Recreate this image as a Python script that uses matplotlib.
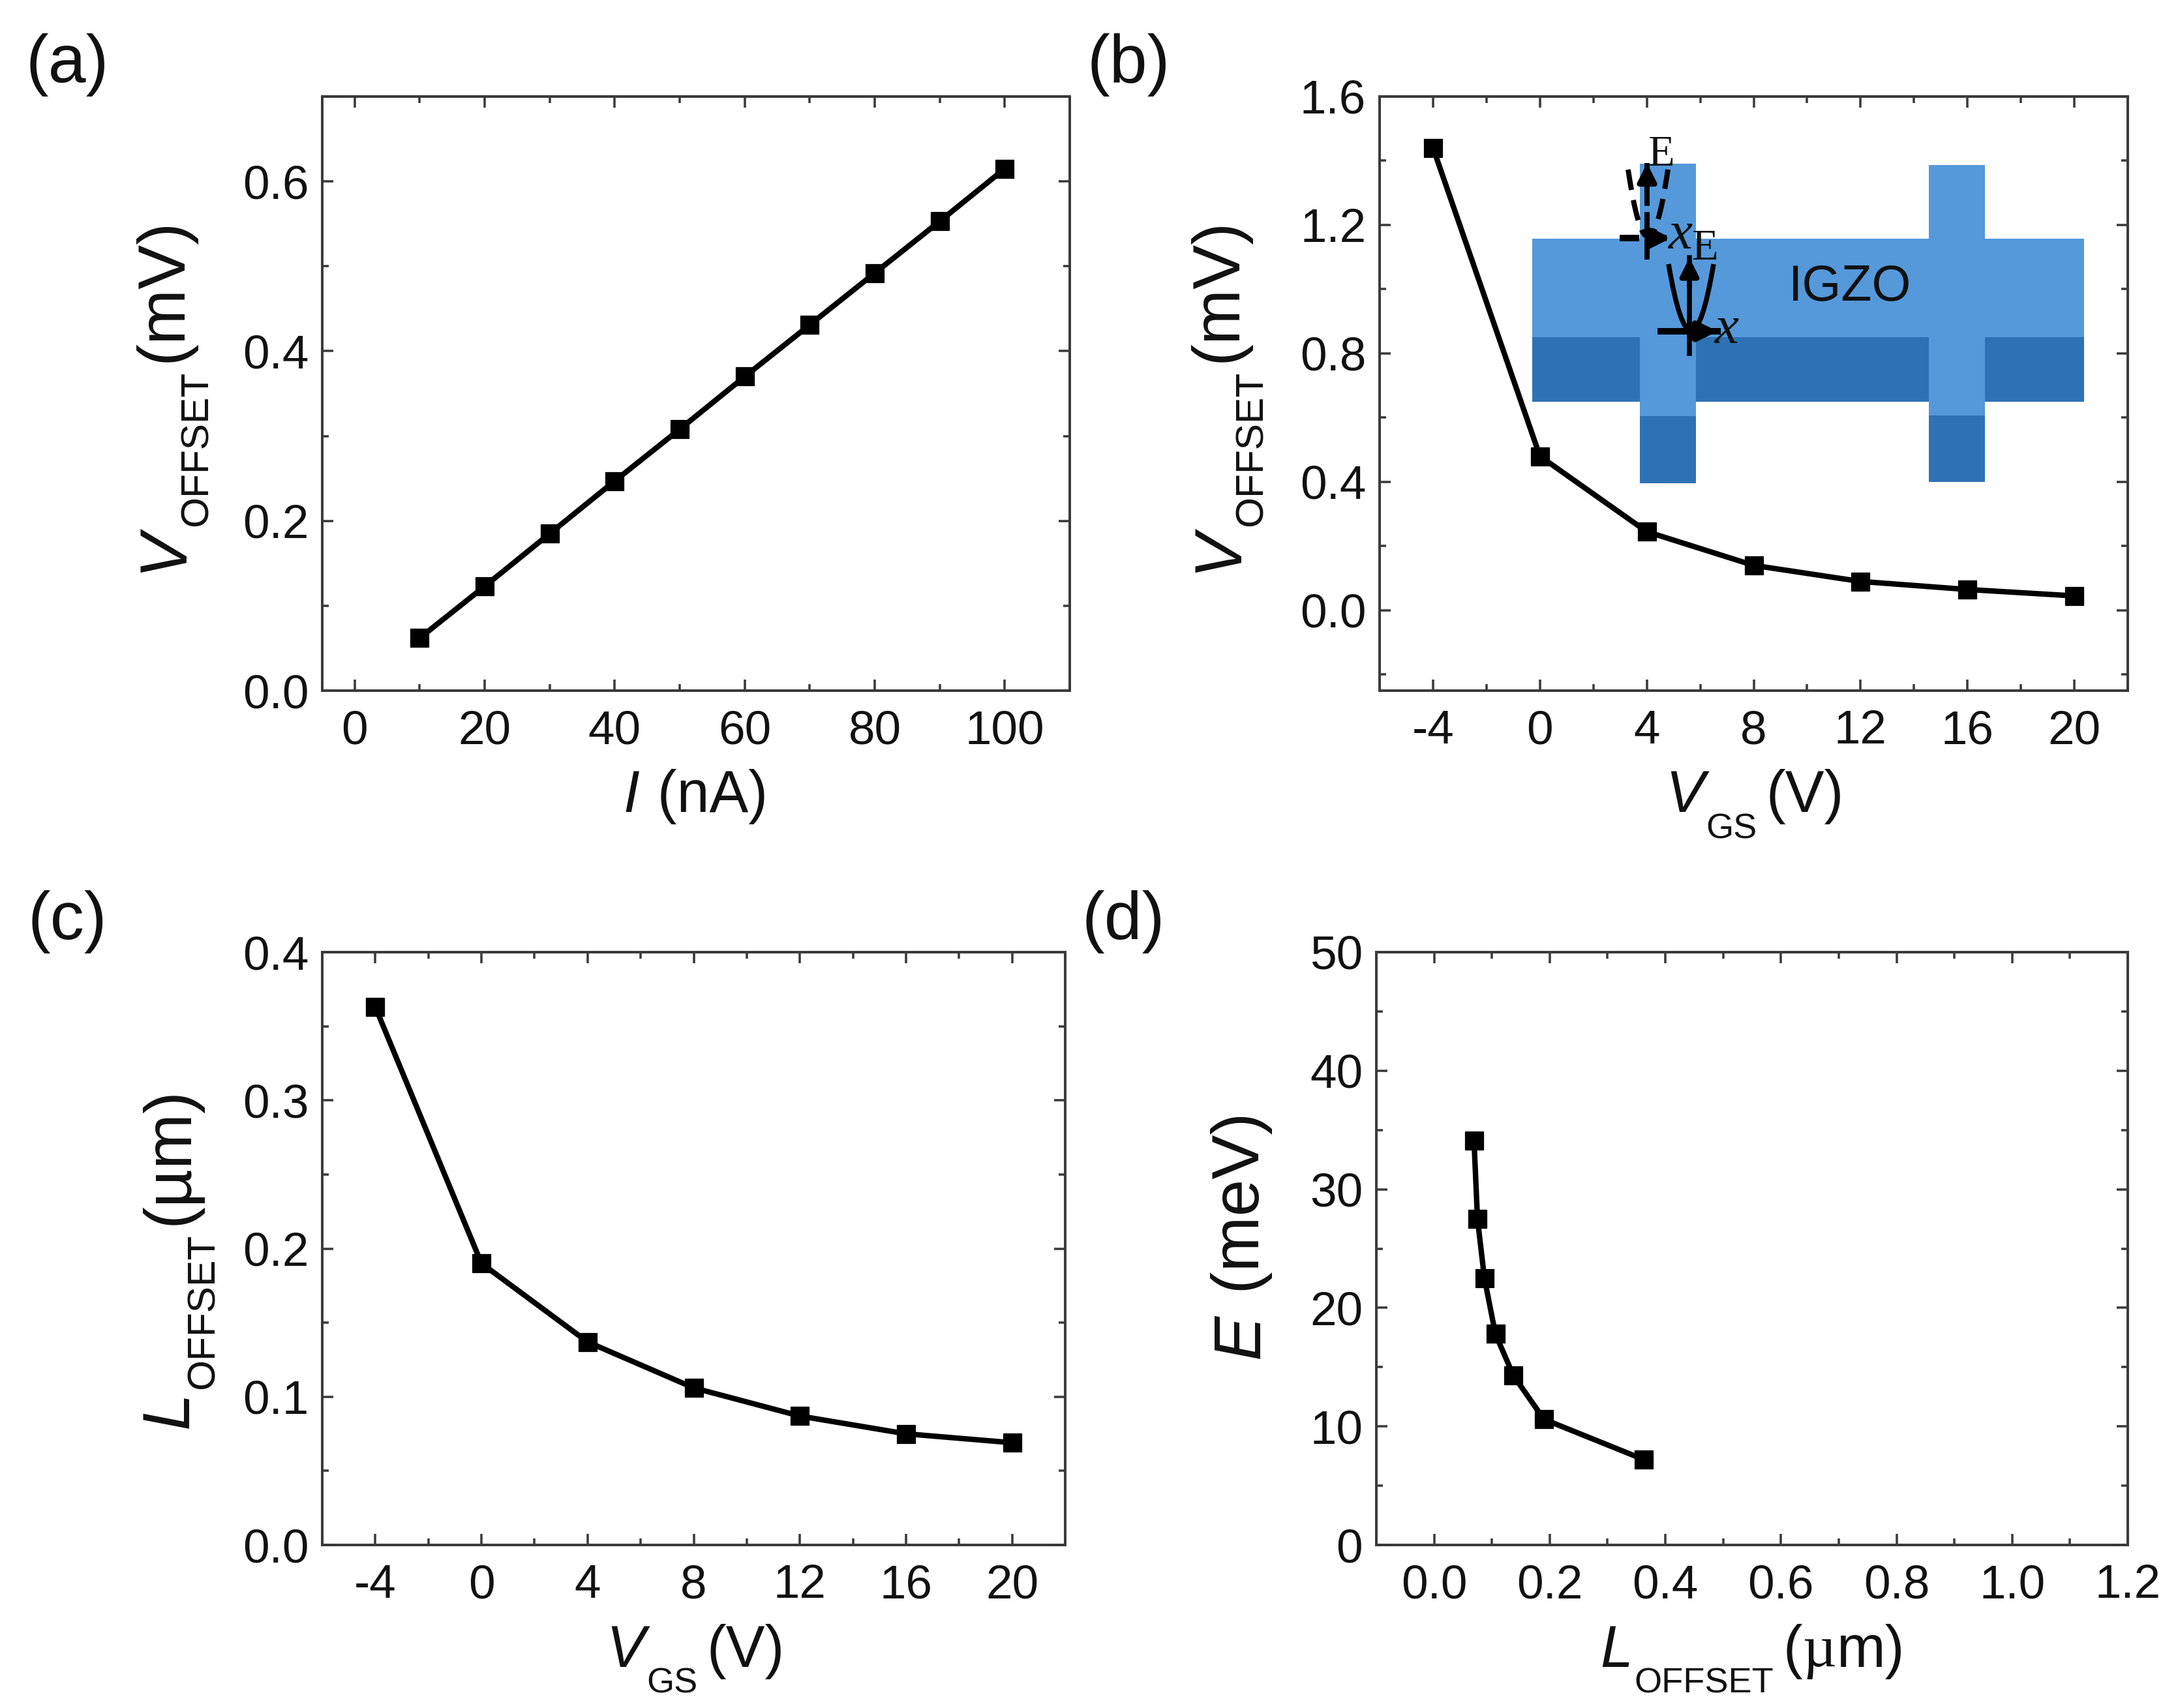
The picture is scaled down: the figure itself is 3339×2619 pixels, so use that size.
import matplotlib
matplotlib.use("Agg")
import matplotlib.pyplot as plt
from matplotlib.patches import Rectangle, PathPatch
from matplotlib.path import Path
from matplotlib.ticker import MultipleLocator, AutoMinorLocator, FormatStrFormatter

FONT = "Liberation Sans"
SERIF = "Liberation Serif"
plt.rcParams["font.family"] = [FONT, "DejaVu Sans"]
plt.rcParams["axes.unicode_minus"] = False

# data
current_nA = [10, 20, 30, 40, 50, 60, 70, 80, 90, 100]
v_offset_a = [0.062, 0.123, 0.185, 0.247, 0.308, 0.370, 0.431, 0.492, 0.553, 0.615]
vgs = [-4, 0, 4, 8, 12, 16, 20]
v_offset_b = [1.44, 0.48, 0.245, 0.14, 0.09, 0.065, 0.045]
l_offset = [0.363, 0.19, 0.137, 0.106, 0.087, 0.075, 0.069]
energy = [7.2, 10.6, 14.3, 17.8, 22.5, 27.5, 34.1]

W, H = 3339, 2619
DPI = 300
fig = plt.figure(figsize=(W / DPI, H / DPI), dpi=DPI)
INK = "#111111"
SPINE = "#3a3a3a"

def make_axes(l, r, t, b):
    return fig.add_axes([l / W, 1 - b / H, (r - l) / W, (b - t) / H])

def style(ax, xlim, ylim, xmaj, ymaj):
    ax.set_xlim(*xlim)
    ax.set_ylim(*ylim)
    ax.xaxis.set_major_locator(MultipleLocator(xmaj))
    ax.yaxis.set_major_locator(MultipleLocator(ymaj))
    ax.xaxis.set_minor_locator(AutoMinorLocator(2))
    ax.yaxis.set_minor_locator(AutoMinorLocator(2))
    ax.tick_params(which="major", direction="in", length=4.0, width=0.85, color=SPINE,
                   top=True, right=True, labelsize=17.5, labelcolor=INK)
    ax.tick_params(axis="x", which="major", pad=7)
    ax.tick_params(axis="y", which="major", pad=5)
    ax.tick_params(which="minor", direction="in", length=2.3, width=0.85, color=SPINE,
                   top=True, right=True)
    for s in ax.spines.values():
        s.set_linewidth(0.95)
        s.set_color(SPINE)

def series(ax, x, y):
    ax.plot(x, y, "-s", color="black", lw=2.0, ms=6.6, mec="black", mew=0.3, mfc="black")

ax_a = make_axes(494, 1640, 148, 1059)
series(ax_a, current_nA, v_offset_a)
style(ax_a, (-5, 110), (0, 0.7), 20, 0.2)

ax_b = make_axes(2115, 3262, 148, 1059)
series(ax_b, vgs, v_offset_b)
style(ax_b, (-6, 22), (-0.25, 1.6), 4, 0.4)

ax_c = make_axes(494, 1633, 1460, 2369)
series(ax_c, vgs, l_offset)
style(ax_c, (-6, 22), (0, 0.4), 4, 0.1)

ax_d = make_axes(2110, 3262, 1460, 2369)
series(ax_d, l_offset, energy)
style(ax_d, (-0.1, 1.2), (0, 50), 0.2, 10)
ax_d.xaxis.set_major_formatter(FormatStrFormatter("%.1f"))

# overlay in pixel coordinates of the figure, for labels and the schematic
ov = fig.add_axes([0, 0, 1, 1], facecolor="none")
ov.set_xlim(0, W)
ov.set_ylim(H, 0)
ov.axis("off")

renderer = fig.canvas.get_renderer()

def label(cx, cy, parts, vertical=False):
    """Lay text runs along one baseline; (cx, cy) = centre along the run / baseline."""
    main, subs = (24.5, 14.5) if vertical else (21.5, 13)
    sizes = [subs if p.get("sub") else main for p in parts]
    widths = []
    for p, size in zip(parts, sizes):
        t = ov.text(0, 0, p["s"], fontsize=size, style=p.get("style", "normal"),
                    family=p.get("family", FONT))
        widths.append(t.get_window_extent(renderer).width + p.get("gap", 0))
        t.remove()
    pos = -sum(widths) / 2
    for p, w, size in zip(parts, widths, sizes):
        drop = 40 if p.get("sub") else 0
        if vertical:
            x, y, rot = cx + drop, cy - pos, 90
        else:
            x, y, rot = cx + pos, cy + drop, 0
        ov.text(x, y, p["s"], fontsize=size, style=p.get("style", "normal"),
                family=p.get("family", FONT), rotation=rot, rotation_mode="anchor",
                ha="left", va="baseline", color=INK)
        pos += w

def it(s):
    return dict(s=s, style="italic", gap=3)

def sub(s):
    return dict(s=s, sub=True, gap=14)

V_OFFSET = [it("V"), sub("OFFSET"), dict(s="(mV)")]
L_OFFSET = [it("L"), sub("OFFSET"), dict(s="(µm)")]
L_OFFSET_SERIF = [it("L"), sub("OFFSET"), dict(s="("), dict(s="µ", family=SERIF), dict(s="m)")]
V_GS = [it("V"), sub("GS"), dict(s="(V)")]

label(1066, 1245, [it("I"), dict(s=" (nA)")])
label(278, 606, V_OFFSET, vertical=True)
label(2690, 1245, V_GS)
label(1895, 606, V_OFFSET, vertical=True)
label(1066, 2556, V_GS)
label(288, 1928, L_OFFSET, vertical=True)
label(2686, 2556, L_OFFSET_SERIF)
label(1930, 1894, [it("E"), dict(s=" (meV)")], vertical=True)

# panel letters
panel_letters = ["(a)", "(b)", "(c)", "(d)"]
panel_x = [103, 1730, 103, 1722]
panel_y = [100, 100, 1414, 1414]
for s, px, py in zip(panel_letters, panel_x, panel_y):
    ov.text(px, py, s, fontsize=25, ha="center", va="center", color=INK)

# schematic inset
LIGHT, DARK = "#5599DB", "#2E72B5"
def rect(x0, x1, y0, y1, c):
    ov.add_patch(Rectangle((x0, y0), x1 - x0, y1 - y0, fc=c, ec="none"))

band_x = (2349, 3195)
band_y = (366, 517, 616)
rect(band_x[0], band_x[1], band_y[0], band_y[1], LIGHT)
rect(band_x[0], band_x[1], band_y[1], band_y[2], DARK)
for x0, x1, y0, y1, y2 in [(2514, 2600, 251, 638, 741), (2957, 3043, 253, 637, 739)]:
    rect(x0, x1, y0, y1, LIGHT)
    rect(x0, x1, y1, y2, DARK)
ov.text(2836, 441, "IGZO", fontsize=18.5, ha="center", va="center", color=INK)

def parabola(xl, xr, ytop, yv, ls, lw):
    xm = (xl + xr) / 2
    p = Path([(xl, ytop), (xm, 2 * yv - ytop), (xr, ytop)],
             [Path.MOVETO, Path.CURVE3, Path.CURVE3])
    ov.add_patch(PathPatch(p, fc="none", ec="black", lw=lw, ls=ls))

def arrow(x0, y0, x1, y1, ls, lw):
    ov.plot([x0, x1], [y0, y1], color="black", lw=lw, ls=ls)
    ov.annotate("", xy=(x1, y1), xytext=(x0 + (x1 - x0) * 0.7, y0 + (y1 - y0) * 0.7),
                arrowprops=dict(arrowstyle="-|>", color="black", lw=lw,
                                shrinkA=0, shrinkB=0, mutation_scale=14))

parabola(2558, 2627, 405, 507, "-", 1.8)
arrow(2590, 542, 2590, 395, "-", 1.8)
arrow(2546, 508, 2633, 508, "-", 2.4)
parabola(2496, 2557, 260, 363, (0, (4, 2)), 1.9)
arrow(2525, 398, 2525, 250, (0, (4, 1.2)), 1.9)
arrow(2483, 365, 2562, 365, (0, (3, 1.2)), 2.4)

inset_labels = [("E", 2546, 237, 16), ("x", 2576, 361, 20), ("E", 2613, 382, 16), ("x", 2647, 506, 20)]
for s, x, y, size in inset_labels:
    ov.text(x, y, s, fontsize=size, ha="center", va="center", color=INK,
            family=SERIF, style="italic" if s == "x" else "normal")

fig.savefig("out.png", dpi=DPI, facecolor="white")
